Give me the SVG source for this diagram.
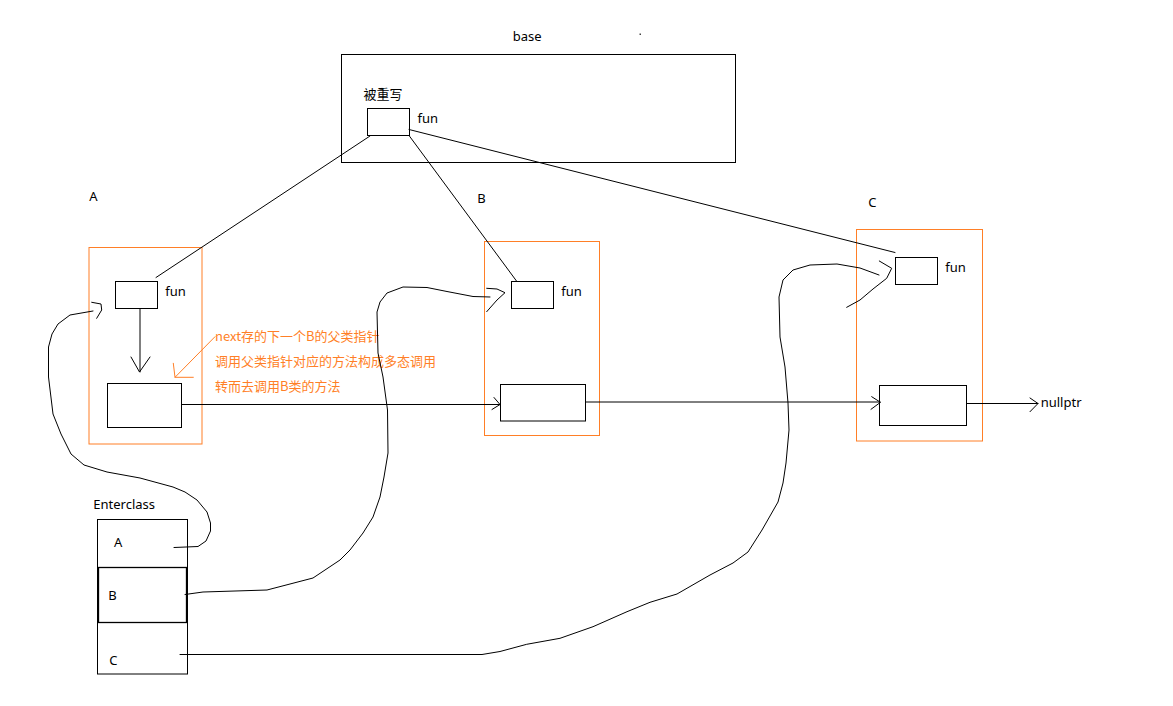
<svg xmlns="http://www.w3.org/2000/svg" width="1173" height="706" viewBox="0 0 1173 706">
<style>
.box{fill:none;stroke:#000;stroke-width:1}
.obox{fill:none;stroke:#FF7F27;stroke-width:1}
.ln{fill:none;stroke:#000;stroke-width:1;stroke-linejoin:round;stroke-linecap:round}
.oln{fill:none;stroke:#FF7F27;stroke-width:1;stroke-linecap:round}
.t{font-family:'Noto Sans','Noto Sans CJK SC',sans-serif;font-size:13px;fill:#000}
.cjk{font-family:'Noto Sans CJK SC',sans-serif;font-size:13px;fill:#000}
.ot{font-family:'Noto Sans CJK SC',sans-serif;font-size:13px;fill:#FF7F27}
</style>
<rect width="1173" height="706" fill="#fff"/>
<g id="base">
<text class="t" x="512.7" y="41">base</text>
<rect x="639.5" y="33.5" width="1.5" height="1.5" fill="#444"/>
<rect class="box" x="341.5" y="54.5" width="394" height="108"/>
<text class="cjk" x="363.5" y="99">被重写</text>
<rect class="box" x="367.5" y="108.5" width="42" height="27"/>
<text class="t" x="417.5" y="123">fun</text>
</g>
<g id="A">
<text class="t" x="89.3" y="200.7">A</text>
<rect class="obox" x="89" y="247.5" width="113" height="196.5"/>
<rect class="box" x="115.5" y="281.5" width="42" height="27"/>
<text class="t" x="165.3" y="296">fun</text>
<rect class="box" x="107.5" y="383.5" width="74" height="44"/>
</g>
<g id="B">
<text class="t" x="477.3" y="202.7">B</text>
<rect class="obox" x="484.5" y="241.5" width="115" height="194"/>
<rect class="box" x="511.5" y="281.5" width="42" height="27"/>
<text class="t" x="561.3" y="296">fun</text>
<rect class="box" x="500.5" y="384.5" width="85" height="36.5"/>
</g>
<g id="C">
<text class="t" x="868.3" y="207.3">C</text>
<rect class="obox" x="856.5" y="229.5" width="126" height="211.5"/>
<rect class="box" x="895.5" y="257.5" width="42" height="27"/>
<text class="t" x="945.3" y="272">fun</text>
<rect class="box" x="879.5" y="385.5" width="87" height="40"/>
</g>
<g id="nullptr">
<text class="t" x="1040.7" y="406.7">nullptr</text>
</g>
<g id="Enterclass">
<text class="t" x="93.3" y="509.3">Enterclass</text>
<rect class="box" x="97.5" y="519.5" width="90" height="154.5"/>
<rect fill="none" stroke="#000" stroke-width="1.3" x="98.5" y="567.5" width="88" height="55"/>
<text class="t" x="114" y="546.7">A</text>
<text class="t" x="108.3" y="600">B</text>
<text class="t" x="109.3" y="665">C</text>
</g>
<g id="note">
<text class="ot" x="215" y="341">next存的下一个B的父类指针</text>
<text class="ot" x="215" y="366">调用父类指针对应的方法构成多态调用</text>
<text class="ot" x="215" y="391">转而去调用B类的方法</text>
<path class="oln" d="M215,336.7 L175,377.3"/>
<path class="oln" d="M173.3,363.3 L175,377.3 L193.3,377.3"/>
</g>
<g id="connectors">
<path class="ln" d="M370,136 L156,277.5"/>
<path class="ln" d="M409,135.5 L516.5,281"/>
<path class="ln" d="M409,129.5 L895,252.5"/>
<path class="ln" d="M140,308.5 L140,372"/>
<path class="ln" d="M131,357 L139.5,372 L150,357"/>
<path class="ln" d="M182,404.5 L500,404.5"/>
<path class="ln" d="M494,397.5 L500,404.5 L492,409.5"/>
<path class="ln" d="M585.5,402 L880,402"/>
<path class="ln" d="M871.7,396.7 L880.5,402.3 L871,409.3"/>
<path class="ln" d="M967,403.5 L1038,403.5"/>
<path class="ln" d="M1030,398 L1038,403.5 L1030,411.7"/>
<path class="ln" d="M174,547.5 L198,546.5 L206,541 L210.5,531 L210.5,523 L207,512 L197,500 L185,492 L173,487 L140,478 L107,472 L84,465 L71,454 L61,434 L53,414 L48.5,377 L48.5,347 L52,334 L58,324 L70,315 L93,311"/>
<path class="ln" d="M91.7,302.3 L101,304 L101.7,310 L96.7,318.3"/>
<path class="ln" d="M185,594.5 L203,592 L267,590 L313,578 L340,560 L350,550 L363,533 L373,517 L380,497 L384,477 L388,453 L387.5,410 L383,377 L378,353 L377,312 L380,302 L387,293 L403,287 L427,287.5 L447,291.5 L473,296.5 L490,297"/>
<path class="ln" d="M486.7,288.3 L497,289 L505,292.7 L497,300 L486.7,311.7"/>
<path class="ln" d="M180,654.5 L482,654.5 L500,651.5 L526.7,644.3 L560,638.3 L593,626.7 L627,611.7 L650,602.3 L677,594 L710,575 L733,563 L748,552 L762,530 L778,502 L783,483 L786,463 L789,430 L788,403 L785,367 L780,337 L779,297 L783,280 L793,270 L810,265 L837,264 L860,268 L879,275"/>
<path class="ln" d="M879.3,261 L891.7,268.3 L886.7,278.3 L873,289 L860,300 L846.7,307.3"/>
</g>
</svg>
